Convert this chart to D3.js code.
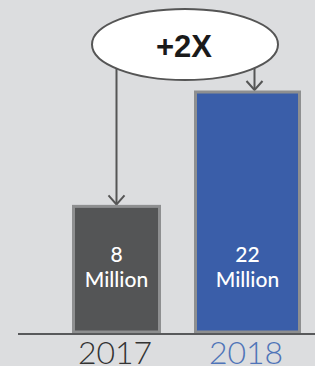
<!DOCTYPE html>
<html lang="en">
<meta charset="utf-8">
<script src="https://cdn.jsdelivr.net/npm/d3@7/dist/d3.min.js"></script>
<style>
  body { margin: 0; background: #dcdddf; }
  svg { display: block; }
</style>
<body>
<script>
// data
var years = ["2017", "2018"];
var values = [8, 22];
var valueLabels = ["8", "22"];
var unitLabel = "Million";
var growthLabel = "+2X";

var W = 315, H = 366;
var baseY = 333;

var svg = d3.select("body").append("svg")
    .attr("width", W)
    .attr("height", H);

// x: bar centres, y: value (the picture is not zero based)
var x = d3.scalePoint().domain(years).range([116.5, 247.5]);
var y = d3.scaleLinear().domain([-7.5, 22]).range([baseY, 92]);
var barW = {"2017": 86, "2018": 104};
var fills = {"2017": "#545556", "2018": "#3a5ea9"};
var yearColors = {"2017": "#333333", "2018": "#4f74b8"};

var data = years.map(function(d, i){ return {year: d, value: values[i], label: valueLabels[i]}; });

// arrows (drawn under the ellipse)
var arrowX = {"2017": x("2017"), "2018": x("2018") + 7};
var ell = {cx: 185, cy: 44.5, rx: 93, ry: 35.5};

data.forEach(function(d){
    var ax = arrowX[d.year];
    var tip = y(d.value) - 2;
    svg.append("line")
        .attr("x1", ax).attr("x2", ax)
        .attr("y1", ell.cy).attr("y2", tip)
        .attr("stroke", "#555")
        .attr("stroke-width", 2);
    svg.append("path")
        .attr("d", "M" + (ax - 8) + "," + (tip - 9) + "L" + ax + "," + tip + "L" + (ax + 8) + "," + (tip - 9))
        .attr("fill", "none")
        .attr("stroke", "#555")
        .attr("stroke-width", 2);
});

svg.append("ellipse")
    .attr("cx", ell.cx).attr("cy", ell.cy)
    .attr("rx", ell.rx).attr("ry", ell.ry)
    .attr("fill", "#fff")
    .attr("stroke", "#555")
    .attr("stroke-width", 2);

svg.append("text")
    .attr("x", ell.cx - 1)
    .attr("y", 57)
    .attr("text-anchor", "middle")
    .style("font-family", "'Liberation Sans', Arial, sans-serif")
    .style("font-weight", "bold")
    .style("font-size", "31px")
    .style("fill", "#1a1a1a")
    .text(growthLabel);

// bars
svg.selectAll(".bar")
    .data(data)
    .enter()
    .append("rect")
    .attr("class", "bar")
    .attr("x", function(d){ return x(d.year) - barW[d.year] / 2; })
    .attr("y", function(d){ return y(d.value); })
    .attr("width", function(d){ return barW[d.year]; })
    .attr("height", function(d){ return baseY - y(d.value) - 1; })
    .attr("fill", function(d){ return fills[d.year]; })
    .attr("stroke", "#8e8f90")
    .attr("stroke-width", 3);

// labels inside bars
var lab = svg.selectAll(".lab")
    .data(data)
    .enter()
    .append("text")
    .attr("class", "lab")
    .attr("text-anchor", "middle")
    .style("font-family", "Lato, sans-serif")
    .style("font-weight", 500)
    .style("font-size", "21px")
    .style("fill", "#fff");
lab.append("tspan")
    .attr("x", function(d){ return x(d.year); })
    .attr("y", 262)
    .text(function(d){ return d.label; });
lab.append("tspan")
    .attr("x", function(d){ return x(d.year); })
    .attr("y", 287)
    .text(unitLabel);

// baseline
svg.append("line")
    .attr("x1", 18).attr("x2", W)
    .attr("y1", baseY + 1).attr("y2", baseY + 1)
    .attr("stroke", "#58595b")
    .attr("stroke-width", 2);

// year labels
svg.selectAll(".year")
    .data(years)
    .enter()
    .append("text")
    .attr("class", "year")
    .attr("x", function(d){ return x(d) - 1.5; })
    .attr("y", 364)
    .attr("text-anchor", "middle")
    .style("font-family", "Lato, sans-serif")
    .style("font-weight", 300)
    .style("font-size", "32px")
    .style("fill", function(d){ return yearColors[d]; })
    .text(function(d){ return d; });
</script>
</body>
</html>
